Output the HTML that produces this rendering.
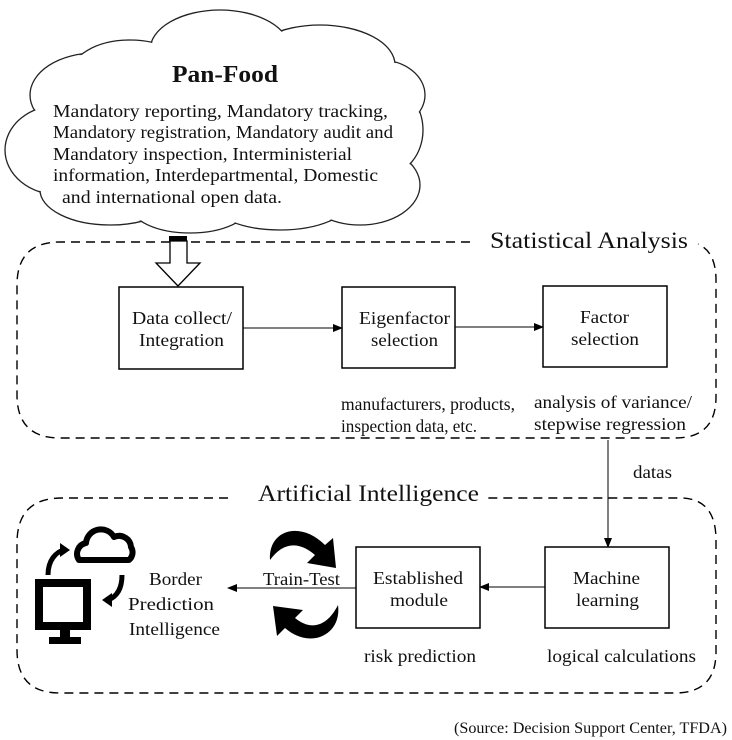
<!DOCTYPE html>
<html><head><meta charset="utf-8"><style>
html,body{margin:0;padding:0;background:#fff;}
svg{display:block;}
text{font-family:"Liberation Serif",serif;fill:#111;}
</style></head><body>
<svg width="732" height="740" viewBox="0 0 732 740" xmlns="http://www.w3.org/2000/svg">
<defs>
<marker id="ah" markerWidth="10" markerHeight="8" refX="9" refY="4" orient="auto" markerUnits="userSpaceOnUse">
<path d="M0,0 L10,4 L0,8 Z" fill="#000"/></marker>
</defs>
<!-- cloud -->
<g stroke="#222" stroke-width="1.3" fill="#fff">
<ellipse cx="95" cy="95" rx="65" ry="42"/>
<ellipse cx="60" cy="150" rx="55" ry="45"/>
<ellipse cx="110" cy="190" rx="70" ry="35"/>
<ellipse cx="190" cy="205" rx="60" ry="28"/>
<ellipse cx="280" cy="200" rx="70" ry="30"/>
<ellipse cx="360" cy="185" rx="60" ry="40"/>
<ellipse cx="385" cy="130" rx="38" ry="45"/>
<ellipse cx="380" cy="95" rx="45" ry="35"/>
<ellipse cx="320" cy="65" rx="75" ry="40"/>
<ellipse cx="220" cy="50" rx="70" ry="40"/>
<ellipse cx="130" cy="75" rx="60" ry="35"/>
</g>
<g fill="#fff" stroke="none">
<ellipse cx="95" cy="95" rx="64" ry="41"/>
<ellipse cx="60" cy="150" rx="54" ry="44"/>
<ellipse cx="110" cy="190" rx="69" ry="34"/>
<ellipse cx="190" cy="205" rx="59" ry="27"/>
<ellipse cx="280" cy="200" rx="69" ry="29"/>
<ellipse cx="360" cy="185" rx="59" ry="39"/>
<ellipse cx="385" cy="130" rx="37" ry="44"/>
<ellipse cx="380" cy="95" rx="44" ry="34"/>
<ellipse cx="320" cy="65" rx="74" ry="39"/>
<ellipse cx="220" cy="50" rx="69" ry="39"/>
<ellipse cx="130" cy="75" rx="59" ry="34"/>
<rect x="70" y="70" width="320" height="140"/>
</g>
<text x="172" y="82" font-size="24" font-weight="bold" textLength="106" lengthAdjust="spacingAndGlyphs">Pan-Food</text>
<g font-size="17.5">
<text x="53" y="117" textLength="335" lengthAdjust="spacingAndGlyphs">Mandatory reporting, Mandatory tracking,</text>
<text x="53" y="138" textLength="340" lengthAdjust="spacingAndGlyphs">Mandatory registration, Mandatory audit and</text>
<text x="53" y="160" textLength="299" lengthAdjust="spacingAndGlyphs">Mandatory inspection, Interministerial</text>
<text x="53" y="181" textLength="325" lengthAdjust="spacingAndGlyphs">information, Interdepartmental, Domestic</text>
<text x="62" y="203" textLength="220" lengthAdjust="spacingAndGlyphs">and international open data.</text>
</g>
<!-- statistical box -->
<path d="M470,242 L60,242 Q17,242 17,285 L17,395 Q17,438 60,438 L675,438 Q716,438 716,397 L716,280 Q716,252 698,244" fill="none" stroke="#000" stroke-width="1.4" stroke-dasharray="9,6"/>
<text x="490" y="248" font-size="23" textLength="198" lengthAdjust="spacingAndGlyphs">Statistical Analysis</text>
<!-- hollow arrow -->
<rect x="169" y="236" width="18" height="5" fill="#000"/>
<path d="M170,241 L187,241 L187,263 L200,263 L178,286 L156,263 L170,263 Z" fill="#fff" stroke="#000" stroke-width="1.3"/>
<g fill="#fff" stroke="#000" stroke-width="1.5">
<rect x="119" y="287" width="124" height="82"/>
<rect x="342" y="287" width="113" height="81"/>
<rect x="543" y="286" width="124" height="81"/>
<rect x="356" y="547" width="124" height="81"/>
<rect x="545" y="547" width="124" height="81"/>
</g>
<g font-size="18">
<text x="132" y="324" textLength="100" lengthAdjust="spacingAndGlyphs">Data collect/</text>
<text x="139" y="346" textLength="85" lengthAdjust="spacingAndGlyphs">Integration</text>
<text x="359" y="324" textLength="91" lengthAdjust="spacingAndGlyphs">Eigenfactor</text>
<text x="371" y="346" textLength="67" lengthAdjust="spacingAndGlyphs">selection</text>
<text x="580" y="323" textLength="49" lengthAdjust="spacingAndGlyphs">Factor</text>
<text x="571" y="345" textLength="68" lengthAdjust="spacingAndGlyphs">selection</text>
<text x="373" y="584" textLength="90" lengthAdjust="spacingAndGlyphs">Established</text>
<text x="390" y="606" textLength="58" lengthAdjust="spacingAndGlyphs">module</text>
<text x="573" y="584" textLength="67" lengthAdjust="spacingAndGlyphs">Machine</text>
<text x="576" y="606" textLength="63" lengthAdjust="spacingAndGlyphs">learning</text>
</g>
<g stroke="#000" stroke-width="1" fill="none" marker-end="url(#ah)">
<line x1="243" y1="328" x2="342" y2="328"/>
<line x1="455" y1="327" x2="543" y2="327"/>
<line x1="608" y1="440" x2="608" y2="547"/>
<line x1="545" y1="587" x2="480" y2="587"/>
<line x1="356" y1="588" x2="228" y2="588"/>
</g>
<g font-size="17.5">
<text x="341" y="410" textLength="174" lengthAdjust="spacingAndGlyphs">manufacturers, products,</text>
<text x="341" y="432" textLength="136" lengthAdjust="spacingAndGlyphs">inspection data, etc.</text>
<text x="534" y="408" textLength="158" lengthAdjust="spacingAndGlyphs">analysis of variance/</text>
<text x="534" y="430" textLength="152" lengthAdjust="spacingAndGlyphs">stepwise regression</text>
<text x="633" y="478" textLength="39" lengthAdjust="spacingAndGlyphs">datas</text>
<text x="364" y="662" textLength="112" lengthAdjust="spacingAndGlyphs">risk prediction</text>
<text x="547" y="662" textLength="149" lengthAdjust="spacingAndGlyphs">logical calculations</text>
<text x="263" y="585" textLength="77" lengthAdjust="spacingAndGlyphs">Train-Test</text>
<text x="149" y="585" textLength="53" lengthAdjust="spacingAndGlyphs">Border</text>
<text x="128" y="610" textLength="86" lengthAdjust="spacingAndGlyphs">Prediction</text>
<text x="129" y="635" textLength="91" lengthAdjust="spacingAndGlyphs">Intelligence</text>
</g>
<!-- AI box -->
<path d="M228,498 L62,498 Q17,498 17,543 L17,650 Q17,693 60,693 L675,693 Q716,693 716,652 L716,540 Q716,498 680,498 L485,498" fill="none" stroke="#000" stroke-width="1.4" stroke-dasharray="9,6"/>
<text x="258" y="501" font-size="23" textLength="221" lengthAdjust="spacingAndGlyphs">Artificial Intelligence</text>
<!-- curved arrows -->
<path d="M270,560 C268,530 300,520 325,545 L333,538 L336,568 L307,563 L315,555 C298,540 282,543 270,560 Z" fill="#000"/>
<path d="M338,605 C342,635 310,650 285,628 L277,636 L273,606 L303,610 L295,618 C312,632 328,625 338,605 Z" fill="#000"/>
<!-- computer icon -->
<rect x="39" y="583" width="48" height="43" fill="none" stroke="#000" stroke-width="8"/>
<rect x="60" y="629" width="10" height="10" fill="#000"/>
<rect x="49" y="637" width="32" height="7" fill="#000"/>
<path d="M79,560 a11,11 0 0 1 7,-17 a15,15 0 0 1 28,-6 a12,12 0 0 1 17,10 a10,10 0 0 1 -2,13 Z" fill="none" stroke="#000" stroke-width="6" stroke-linejoin="round"/>
<path d="M48,575 C48,560 56,552 64,550" fill="none" stroke="#000" stroke-width="5"/>
<path d="M60,543 L70,550 L60,557 Z" fill="#000"/>
<path d="M122,575 C122,590 116,597 108,600" fill="none" stroke="#000" stroke-width="5"/>
<path d="M112,593 L102,600 L112,607 Z" fill="#000"/>
<text x="454" y="733" font-size="16" textLength="273" lengthAdjust="spacingAndGlyphs">(Source: Decision Support Center, TFDA)</text>
</svg>
</body></html>
